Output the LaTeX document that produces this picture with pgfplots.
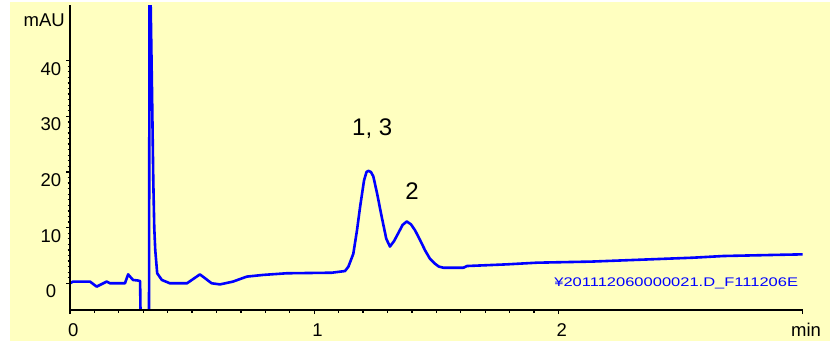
\documentclass[border=0pt]{standalone}
\usepackage{fontspec}
\setmainfont{Liberation Sans}
\usepackage{graphicx}
\usepackage{pgfplots}
\pgfplotsset{compat=1.18}
\definecolor{bgyel}{RGB}{255,255,192}
\definecolor{trace}{RGB}{0,0,255}
\begin{document}
\begin{tikzpicture}[x=1pt,y=1pt]
\path[use as bounding box] (0,0) rectangle (830,341);
\fill[bgyel] (10,0) rectangle (830,339);
\begin{axis}[
  at={(70pt,31pt)}, anchor=south west,
  scale only axis, width=732.7pt, height=305pt,
  xmin=0, xmax=3, ymin=-4.8, ymax=50,
  axis x line*=bottom, axis y line*=left,
  axis line style={line width=2pt, black},
  xtick={0,1,2}, ytick={0,10,20,30,40},
  extra x ticks={3}, extra x tick labels={},
  minor x tick num=9, minor y tick num=9,
  tick align=outside,
  major tick length=4pt, minor tick length=2.5pt,
  every tick/.style={black, line width=1.3pt},
  tick label style={font=\fontsize{18.5}{20}\selectfont, inner sep=0pt},
  /pgf/number format/assume math mode=true,
  xticklabel style={anchor=base, xshift=3.3pt, yshift=-22.7pt},
  yticklabel style={anchor=north, xshift=-15pt, yshift=-1.5pt},
  axis on top,
  clip mode=individual,
]
\addplot[trace, line width=2.6pt, line join=round] coordinates {
(0.000,0.0) (0.012,0.3) (0.082,0.3) (0.109,-0.6) (0.150,0.3) (0.164,0.0)
(0.225,0.0) (0.238,1.6) (0.258,0.6) (0.278,0.5) (0.287,0.4) (0.289,-6)
(0.3235,-6) (0.326,62) (0.336,34) (0.341,18.5) (0.345,10) (0.349,6)
(0.357,1.8) (0.376,0.6) (0.409,0.0) (0.479,0.0) (0.532,1.6) (0.580,0.0)
(0.614,-0.2) (0.667,0.3) (0.724,1.2) (0.790,1.5) (0.887,1.8) (1.072,1.9)
(1.126,2.2) (1.140,3.0) (1.160,5.3) (1.175,9.5) (1.188,13.8) (1.204,18.5)
(1.214,20.0) (1.222,20.2) (1.232,20.0) (1.242,19.2) (1.258,16.0) (1.276,12.0)
(1.295,8.0) (1.310,6.6) (1.327,7.6) (1.344,9.0) (1.362,10.5) (1.379,11.1)
(1.396,10.6) (1.413,9.5) (1.433,7.8) (1.454,5.9) (1.474,4.4) (1.495,3.5)
(1.510,3.0) (1.529,2.8) (1.611,2.8) (1.625,3.1) (1.788,3.4) (1.911,3.7)
(2.136,3.9) (2.314,4.2) (2.552,4.6) (2.675,4.9) (2.887,5.1) (3.000,5.2)
};
\node[anchor=base, font=\fontsize{24}{26}\selectfont] at (axis cs:1.2375,26.5) {1, 3};
\node[anchor=base, font=\fontsize{24}{26}\selectfont] at (axis cs:1.401,15.1) {2};
\node[anchor=base east, text=trace, font=\fontsize{12.5}{14}\selectfont, inner sep=0pt] at (axis cs:2.982,-0.6) {\scalebox{1.32}[1]{¥201112060000021.D\_F111206E}};
\node[anchor=base east, font=\fontsize{18.5}{20}\selectfont, inner sep=0pt] at (axis cs:0,46.1) [xshift=-5pt] {mAU};
\node[anchor=base, font=\fontsize{18.5}{20}\selectfont, inner sep=0pt] at (axis cs:3.014,-9.55) {min};
\end{axis}
\end{tikzpicture}
\end{document}
